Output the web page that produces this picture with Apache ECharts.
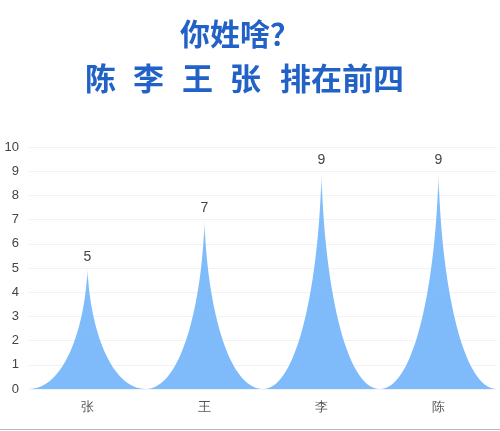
<!DOCTYPE html>
<html>
<head>
<meta charset="utf-8">
<script src="https://cdn.jsdelivr.net/npm/echarts@6/dist/echarts.min.js"></script>
<style>
html, body { margin: 0; padding: 0; background: #fff; }
#main { width: 500px; height: 431px; }
</style>
</head>
<body>
<div id="main"></div>
<script>
// 姓氏和人数
let surnames = ["张", "王", "李", "陈"]
let counts = [5, 7, 9, 9]
let yTicks = [0, 1, 2, 3, 4, 5, 6, 7, 8, 9, 10]

var myChart = echarts.init(document.getElementById('main'));

var titleFont = 'bold 31px "Noto Sans CJK SC"'
var titleColor = '#2262c6'

var option = {
    animation: false,
    graphic: [
        {
            type: 'text', left: 180, top: 19,
            style: { text: '你姓啥？', font: 'bold 30px "Noto Sans CJK SC"', fill: titleColor }
        },
        { type: 'text', left: 85, top: 63, style: { text: '陈', font: titleFont, fill: titleColor } },
        { type: 'text', left: 133, top: 63, style: { text: '李', font: titleFont, fill: titleColor } },
        { type: 'text', left: 182, top: 63, style: { text: '王', font: titleFont, fill: titleColor } },
        { type: 'text', left: 230, top: 63, style: { text: '张', font: titleFont, fill: titleColor } },
        { type: 'text', left: 280, top: 63, style: { text: '排在前四', font: titleFont, fill: titleColor } },
        {
            type: 'rect', left: 0, top: 429,
            shape: { width: 500, height: 1 },
            style: { fill: '#b8b8b8' }
        }
    ],
    grid: {
        left: 29,
        right: 3,
        top: 147,
        bottom: 42
    },
    xAxis: {
        type: 'category',
        data: surnames,
        axisTick: { show: false },
        axisLine: { show: false },
        axisLabel: { color: '#555', fontSize: 13, margin: 12 }
    },
    yAxis: {
        type: 'value',
        min: 0,
        max: yTicks[yTicks.length - 1],
        interval: 1,
        axisLine: { show: false },
        axisTick: { show: false },
        splitLine: { lineStyle: { color: '#f2f2f2' } },
        axisLabel: { color: '#444', fontSize: 13, margin: 10 }
    },
    series: [
        {
            type: 'pictorialBar',
            barCategoryGap: '0%',
            // 尖峰形状
            symbol: 'path://M0,10 L10,10 C7,10 5.2,5 5,0 C4.8,5 3,10 0,10 z',
            itemStyle: {
                color: new echarts.graphic.LinearGradient(0, 0, 0, 1, [
                    { offset: 0, color: 'rgba(200,225,255,0.6)' },
                    { offset: 0.1, color: '#80bcfa' },
                    { offset: 1, color: '#7fbbfa' }
                ])
            },
            label: {
                show: true,
                position: 'top',
                distance: 4,
                color: '#444',
                fontSize: 14
            },
            data: counts
        }
    ]
};

myChart.setOption(option);
</script>
</body>
</html>
